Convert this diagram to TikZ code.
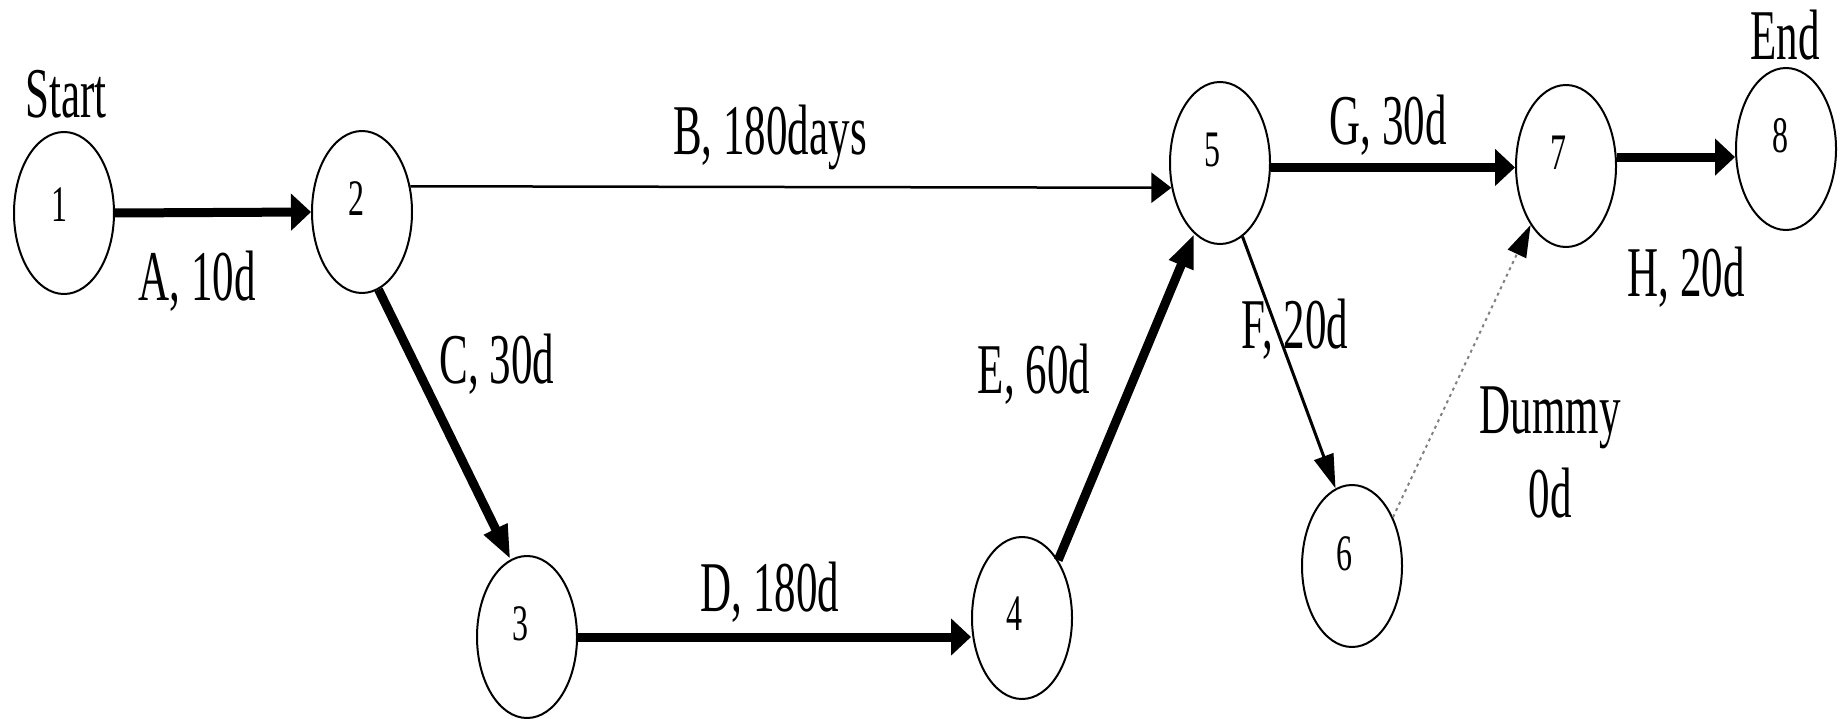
\documentclass[tikz,border=0pt]{standalone}
\usepackage{fontspec}
\usepackage{graphicx}
\setmainfont{Liberation Serif}
\usetikzlibrary{shapes.geometric,arrows.meta}
% tall, narrow lettering
\newcommand{\tallt}[1]{\scalebox{1}[1.66]{#1}}
\newcommand{\talln}[1]{\scalebox{1}[1.6]{#1}}
\begin{document}
\begin{tikzpicture}[x=1pt,y=-1pt,
  ev/.style={ellipse,draw,line width=2pt,minimum width=100pt,minimum height=162pt,inner sep=0pt},
  num/.style={inner sep=0pt,font=\fontsize{32}{36}\selectfont},
  lbl/.style={inner sep=0pt,anchor=base,font=\fontsize{43}{50}\selectfont},
  heavy/.style={line width=9pt,-{Triangle[length=20pt,width=36pt]}},
  heavyslant/.style={line width=9pt,-{Triangle[length=34pt,width=24pt]}},
  light/.style={line width=2.5pt,-{Triangle[length=20pt,width=30pt]}},
  lightslant/.style={line width=3pt,-{Triangle[length=34pt,width=20pt]}},
  dummyarc/.style={line width=2pt,gray,dash pattern=on 3pt off 4pt,-{Triangle[length=32pt,width=20pt,color=black]}},
]
\useasboundingbox (0,0) rectangle (1843,719);

% events
\node[ev] (n1) at (64,213) {};
\node[ev] (n2) at (362,212) {};
\node[ev] (n3) at (527,637) {};
\node[ev] (n4) at (1022,618) {};
\node[ev] (n5) at (1220,163) {};
\node[ev] (n6) at (1352,566) {};
\node[ev] (n7) at (1566,166) {};
\node[ev] (n8) at (1786,149) {};

% event numbers
\node[num] (t1) at ([xshift=-5pt,yshift=8pt]n1.center) {\talln{1}};
\node[num] (t2) at ([xshift=-6pt,yshift=13pt]n2.center) {\talln{2}};
\node[num] (t3) at ([xshift=-7pt,yshift=13pt]n3.center) {\talln{3}};
\node[num] (t4) at ([xshift=-8pt,yshift=4pt]n4.center) {\talln{4}};
\node[num] (t5) at ([xshift=-8pt,yshift=13pt]n5.center) {\talln{5}};
\node[num] (t6) at ([xshift=-8pt,yshift=12pt]n6.center) {\talln{6}};
\node[num] (t7) at ([xshift=-8pt,yshift=13pt]n7.center) {\talln{7}};
\node[num] (t8) at ([xshift=-6pt,yshift=13pt]n8.center) {\talln{8}};

% activities
\draw[heavy] (n1.east) -- (n2.west);
\draw[light] (n2.28) -- (n5.207);
\draw[heavyslant] (n2.-78) -- (n3.102);
\draw[heavy] (n3.east) -- (n3.east -| n4.west);
\draw[heavyslant] (n4.58) -- (n5.-110);
\draw[lightslant] (n5.-73) -- (n6.102);
\draw[heavy] (n5.-5) -- (n5.-5 -| n7.west);
\draw[dummyarc] (n6.50) -- (n7.-121);
\draw[heavy] (n7.10) -- (n7.10 -| n8.west);

% labels
\node[lbl] (start) at (66,118) {\tallt{Start}};
\node[lbl] (endl) at (1785,60) {\tallt{End}};
\node[lbl] (la) at (197,300) {\tallt{A, 10d}};
\node[lbl] (lb) at (770,155) {\tallt{B, 180days}};
\node[lbl] (lc) at (497,383) {\tallt{C, 30d}};
\node[lbl] (ld) at (770,611) {\tallt{D, 180d}};
\node[lbl] (le) at (1034,393) {\tallt{E, 60d}};
\node[lbl] (lf) at (1295,348) {\tallt{F, 20d}};
\node[lbl] (lg) at (1388,145) {\tallt{G, 30d}};
\node[lbl] (lh) at (1686,296) {\tallt{H, 20d}};
\node[lbl] (ldm) at (1550,433) {\tallt{Dummy}};
\node[lbl] (ldd) at (1550,517) {\tallt{0d}};
\end{tikzpicture}
\end{document}
